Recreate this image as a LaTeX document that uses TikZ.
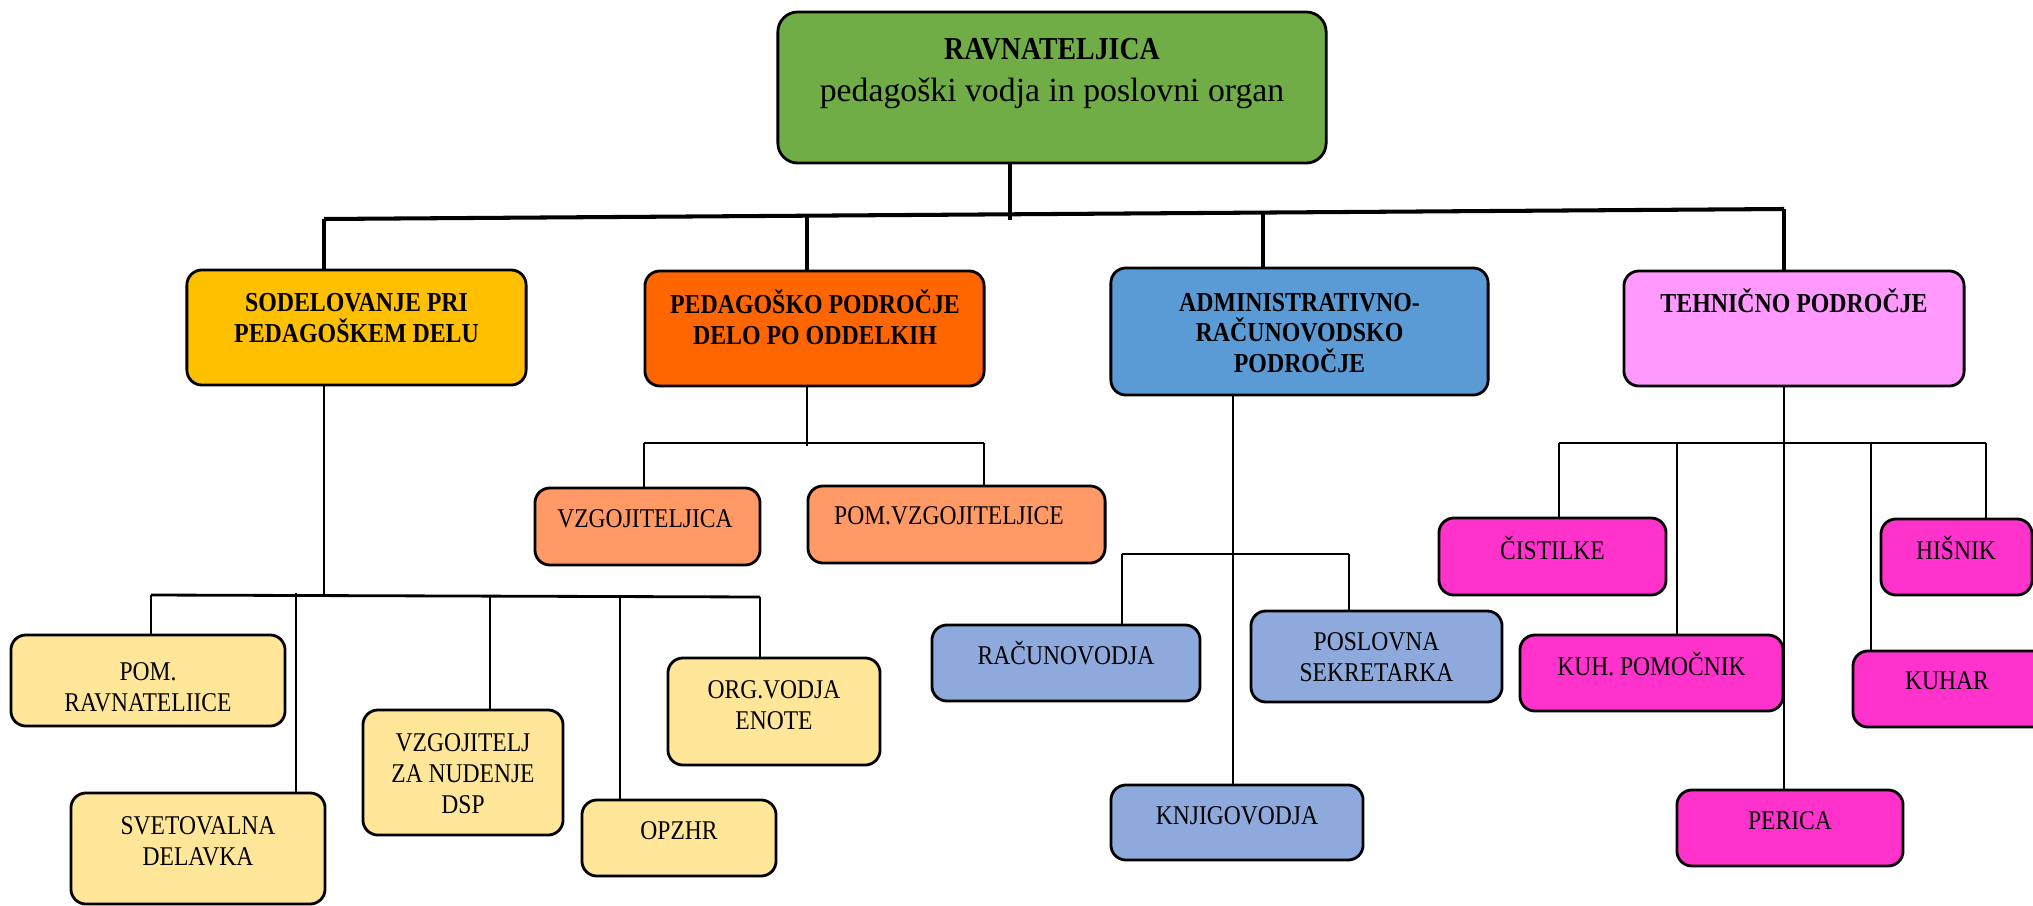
\documentclass[tikz,border=0pt]{standalone}
\usepackage{fontspec}
\setmainfont{Liberation Serif}
\newfontfamily\condfont[FakeStretch=0.87]{Liberation Serif}
\usetikzlibrary{calc, positioning}

\definecolor{ravncol}{HTML}{70AD47}
\definecolor{sodcol}{HTML}{FFC000}
\definecolor{pedcol}{HTML}{FF6600}
\definecolor{admcol}{HTML}{5B9BD5}
\definecolor{tehcol}{HTML}{FF99FF}
\definecolor{sodsub}{HTML}{FFE699}
\definecolor{pedsub}{HTML}{FF9966}
\definecolor{admsub}{HTML}{8EA9DB}
\definecolor{tehsub}{HTML}{FF33CC}

\begin{document}
\begin{tikzpicture}[x=0.01cm, y=-0.01cm]
    \tikzset{
      my box/.style={
        draw, line width=0.8pt, rounded corners=0.15cm, inner sep=0pt
      },
      my text/.style={
        align=center, inner sep=0pt, font=\condfont\fontsize{7.7}{8.8}\selectfont
      },
      my head/.style={
        align=center, inner sep=0pt, font=\condfont\bfseries\fontsize{7.8}{8.7}\selectfont
      },
      my line/.style={line width=0.6pt},
      my sub bus/.style={line width=0.8pt},
      my bus/.style={line width=1.15pt},
    }
    \useasboundingbox (0,0) rectangle (2033,906);

    % Draw head box
    \node (ravn) [my box, fill=ravncol, rounded corners=0.2cm, minimum width=5.48cm, minimum height=1.51cm] at (1052,87.5) {};
    \node (ravn-t) [align=center, inner sep=0pt, font=\fontsize{9.6}{11.9}\selectfont] at (1052,73.5)
    {{\condfont\bfseries\fontsize{9.1}{11.9}\selectfont RAVNATELJICA}\\pedagoški vodja in poslovni organ};

    % Draw areas
    \node (sod) [my box, fill=sodcol, minimum width=3.39cm, minimum height=1.15cm] at (356.5,327.5) {};
    \node (sod-t) [my head] at (356.5,318) {SODELOVANJE PRI\\PEDAGOŠKEM DELU};
    \node (ped) [my box, fill=pedcol, minimum width=3.39cm, minimum height=1.15cm] at (814.5,328.5) {};
    \node (ped-t) [my head] at (815,317) {PEDAGOŠKO PODROČJE\\DELO PO ODDELKIH};
    \node (adm) [my box, fill=admcol, minimum width=3.77cm, minimum height=1.27cm] at (1299.5,331.5) {};
    \node (adm-t) [my head] at (1299.5,333) {ADMINISTRATIVNO-\\RAČUNOVODSKO\\PODROČJE};
    \node (teh) [my box, fill=tehcol, minimum width=3.40cm, minimum height=1.15cm] at (1794,328.5) {};
    \node (teh-t) [my head] at (1794,301) {TEHNIČNO PODROČJE};

    % Draw staff of first area
    \node (pom) [my box, fill=sodsub, minimum width=2.74cm, minimum height=0.91cm] at (148,680.5) {};
    \node (pom-t) [my text] at (148,687) {POM.\\RAVNATELIICE};
    \node (svet) [my box, fill=sodsub, minimum width=2.54cm, minimum height=1.11cm] at (198,848.5) {};
    \node (svet-t) [my text] at (198,841) {SVETOVALNA\\DELAVKA};
    \node (vzgdsp) [my box, fill=sodsub, minimum width=2.00cm, minimum height=1.25cm] at (463,772.5) {};
    \node (vzgdsp-t) [my text] at (463,774) {VZGOJITELJ\\ZA NUDENJE\\DSP};
    \node (opzhr) [my box, fill=sodsub, minimum width=1.94cm, minimum height=0.76cm] at (679,838) {};
    \node (opzhr-t) [my text] at (679,831) {OPZHR};
    \node (org) [my box, fill=sodsub, minimum width=2.12cm, minimum height=1.07cm] at (774,711.5) {};
    \node (org-t) [my text] at (774,705.5) {ORG.VODJA\\ENOTE};

    % Draw staff of second area
    \node (vzg) [my box, fill=pedsub, minimum width=2.25cm, minimum height=0.77cm] at (647.5,526.5) {};
    \node (vzg-t) [my text] at (645,519) {VZGOJITELJICA};
    \node (pomvzg) [my box, fill=pedsub, minimum width=2.97cm, minimum height=0.77cm] at (956.5,524.5) {};
    \node (pomvzg-t) [my text] at (949,516) {POM.VZGOJITELJICE};

    % Draw staff of third area
    \node (rac) [my box, fill=admsub, minimum width=2.68cm, minimum height=0.76cm] at (1066,663) {};
    \node (rac-t) [my text] at (1066,653) {RAČUNOVODJA};
    \node (posl) [my box, fill=admsub, minimum width=2.51cm, minimum height=0.91cm] at (1376.5,656.5) {};
    \node (posl-t) [my text] at (1376.5,657) {POSLOVNA\\SEKRETARKA};
    \node (knj) [my box, fill=admsub, minimum width=2.52cm, minimum height=0.75cm] at (1237,822.5) {};
    \node (knj-t) [my text] at (1237,816) {KNJIGOVODJA};

    % Draw staff of fourth area
    \node (cist) [my box, fill=tehsub, minimum width=2.27cm, minimum height=0.77cm] at (1552.5,556.5) {};
    \node (cist-t) [my text] at (1552.5,548) {ČISTILKE};
    \node (his) [my box, fill=tehsub, minimum width=1.51cm, minimum height=0.76cm] at (1956.5,557) {};
    \node (his-t) [my text] at (1956,548) {HIŠNIK};
    \node (kuhp) [my box, fill=tehsub, minimum width=2.63cm, minimum height=0.76cm] at (1651.5,673) {};
    \node (kuhp-t) [my text] at (1651.5,664) {KUH. POMOČNIK};
    \node (kuhar) [my box, fill=tehsub, minimum width=1.97cm, minimum height=0.76cm] at (1951.5,689) {};
    \node (kuhar-t) [my text] at (1947,681) {KUHAR};
    \node (per) [my box, fill=tehsub, minimum width=2.26cm, minimum height=0.76cm] at (1790,828) {};
    \node (per-t) [my text] at (1790,821) {PERICA};

    % Top level connectors
    \coordinate (b0) at (1010,220);
    \coordinate (b-sod) at (324,219);
    \coordinate (b-ped) at (807,215.7);
    \coordinate (b-adm) at (1263,212.6);
    \coordinate (b-teh) at (1784,209);
    \draw[my bus] (b-sod) -- (b-teh);
    \draw[my bus] (b0 |- ravn.south) -- (b0);
    \foreach \n in {sod, ped, adm, teh} {
      \draw[my bus] (b-\n) -- (b-\n |- \n.north);
    }

    % First area
    \coordinate (s0) at (324,596);
    \draw[my line] (sod.south -| s0) -- (s0);
    \foreach \x/\y/\n in {151/595/pom, 296/593/svet, 490/597/vzgdsp, 620/597/opzhr, 760/597/org} {
      \coordinate (s-\n) at (\x,\y);
      \draw[my line] (s-\n) -- (s-\n |- \n.north);
    }
    \draw[my sub bus] (s-pom) -- (s-org);

    % Second area
    \coordinate (p0) at (807,446);
    \draw[my line] (ped.south -| p0) -- (p0);
    \foreach \x/\n in {644/vzg, 984/pomvzg} {
      \coordinate (p-\n) at (\x,443);
      \draw[my line] (p-\n) -- (p-\n |- \n.north);
    }
    \draw[my sub bus] (p-vzg) -- (p-pomvzg);

    % Third area
    \coordinate (a0) at (1233,554);
    \draw[my line] (adm.south -| a0) -- (knj.north -| a0);
    \foreach \x/\n in {1122/rac, 1349/posl} {
      \coordinate (a-\n) at (\x,554);
      \draw[my line] (a-\n) -- (a-\n |- \n.north);
    }
    \draw[my sub bus] (a-rac) -- (a-posl);

    % Fourth area
    \coordinate (t0) at (1784,443);
    \draw[my line] (teh.south -| t0) -- (per.north -| t0);
    \foreach \x/\n in {1559/cist, 1677/kuhp, 1871/kuhar, 1986/his} {
      \coordinate (t-\n) at (\x,443);
      \draw[my line] (t-\n) -- (t-\n |- \n.north);
    }
    \draw[my sub bus] (t-cist) -- (t-his);

  \end{tikzpicture}
\end{document}
